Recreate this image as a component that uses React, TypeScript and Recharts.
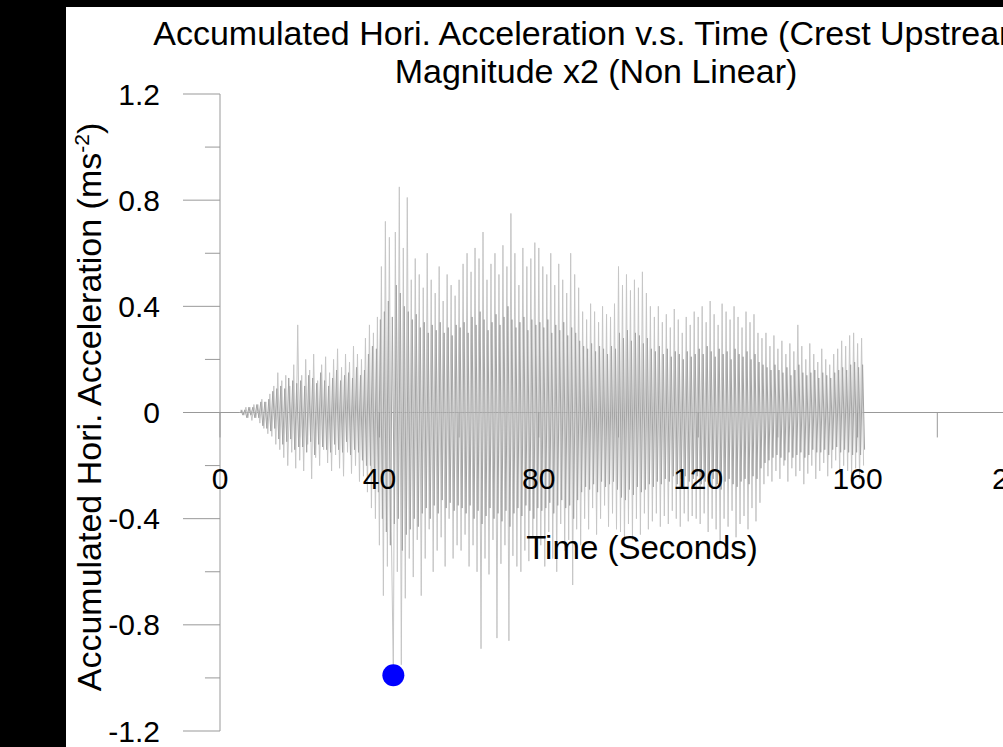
import { ComposedChart, Line, XAxis, YAxis, ReferenceLine, ReferenceDot } from 'recharts';

// regular sampling of the record (m/s^2)
const SAMPLE_STEP = 0.5;
const START_TIME = 5;
const CORE_START_TIME = 5.25;

// outer strokes (light grey)
// 5 - 19.5 s
const accelOnset = [
  0, 0.01, -0.01, 0.02, -0.02, 0.02, -0.03, 0.03, -0.02, 0.03,
  -0.04, 0.05, -0.06, 0.04, -0.08, 0.07, -0.09, 0.1, -0.12, 0.15,
  -0.14, 0.12, -0.17, 0.14, -0.2, 0.1, -0.15, 0.18, -0.21, 0.33,
];
// 20 - 39.5 s
const accel20 = [
  -0.18, 0.14, -0.22, 0.2, -0.12, 0.16, -0.25, 0.22, -0.17, 0.12,
  -0.2, 0.18, -0.14, 0.21, -0.19, 0.15, -0.22, 0.2, -0.16, 0.24,
  -0.21, 0.17, -0.24, 0.22, -0.15, 0.19, -0.23, 0.25, -0.2, 0.22,
  -0.26, 0.2, -0.24, 0.28, -0.3, 0.33, -0.36, 0.3, -0.4, 0.36,
];
// 40 - 59.5 s
const accel40 = [
  -0.5, 0.55, -0.69, 0.72, -0.58, 0.66, -0.45, -0.99, 0.68, -0.6,
  0.85, -0.95, 0.62, -0.7, 0.81, -0.55, 0.5, -0.62, 0.58, -0.48,
  0.52, -0.69, 0.47, -0.55, 0.6, -0.44, 0.5, -0.6, 0.45, -0.52,
  0.55, -0.47, 0.42, -0.58, 0.52, -0.4, 0.48, -0.55, 0.44, -0.5,
];
// 60 - 79.5 s
const accel60 = [
  0.5, -0.52, 0.56, -0.46, 0.6, -0.58, 0.53, -0.5, 0.62, -0.6,
  0.58, -0.89, 0.68, -0.55, 0.5, -0.61, 0.56, -0.48, 0.6, -0.85,
  0.52, -0.57, 0.63, -0.5, 0.55, -0.86, 0.75, -0.54, 0.6, -0.58,
  0.48, -0.6, 0.62, -0.52, 0.55, -0.56, 0.58, -0.47, 0.64, -0.55,
];
// 80 - 99.5 s
const accel80 = [
  0.62, -0.5, 0.55, -0.58, 0.52, -0.45, 0.6, -0.55, 0.48, -0.6,
  0.56, -0.42, 0.5, -0.52, 0.45, -0.48, 0.6, -0.65, 0.52, -0.44,
  0.47, -0.5, 0.38, -0.4, 0.35, -0.44, 0.41, -0.36, 0.38, -0.46,
  0.34, -0.4, 0.4, -0.35, 0.37, -0.43, 0.36, -0.38, 0.41, -0.44,
];
// 100 - 119.5 s
const accel100 = [
  0.55, -0.45, 0.48, -0.5, 0.52, -0.42, 0.46, -0.48, 0.5, -0.4,
  0.47, -0.46, 0.53, -0.38, 0.45, -0.44, 0.4, -0.41, 0.36, -0.38,
  0.4, -0.43, 0.34, -0.39, 0.37, -0.42, 0.32, -0.37, 0.39, -0.4,
  0.35, -0.43, 0.3, -0.38, 0.36, -0.41, 0.33, -0.39, 0.38, -0.4,
];
// 120 - 139.5 s
const accel120 = [
  0.36, -0.42, 0.4, -0.38, 0.34, -0.45, 0.42, -0.4, 0.37, -0.44,
  0.33, -0.49, 0.41, -0.4, 0.38, -0.43, 0.35, -0.37, 0.4, -0.47,
  0.36, -0.42, 0.32, -0.39, 0.38, -0.44, 0.34, -0.36, 0.37, -0.41,
  0.3, -0.34, 0.28, -0.27, 0.3, -0.24, 0.25, -0.26, 0.29, -0.22,
];
// 140 - 161.5 s
const accel140 = [
  0.24, -0.25, 0.27, -0.2, 0.22, -0.26, 0.26, -0.21, 0.23, -0.24,
  0.33, -0.22, 0.25, -0.27, 0.2, -0.23, 0.26, -0.2, 0.22, -0.25,
  0.19, -0.22, 0.24, -0.19, 0.2, -0.24, 0.18, -0.21, 0.22, -0.18,
  0.24, -0.23, 0.27, -0.2, 0.25, -0.22, 0.29, -0.24, 0.3, -0.21,
  0.26, -0.25, 0.28, -0.2,
];

// dense inner strokes (mid grey), offset by a quarter second
const coreOnset = [
  0.01, -0.01, 0.01, -0.02, 0.02, -0.01, 0.02, -0.02, 0.03, -0.02,
  0.04, -0.05, 0.04, -0.06, 0.05, -0.07, 0.08, -0.06, 0.09, -0.1,
  0.1, -0.12, 0.09, -0.11, 0.13, -0.1, 0.12, -0.14, 0.11, -0.13,
];
const core20 = [
  0.12, -0.13, 0.1, -0.15, 0.14, -0.11, 0.13, -0.16, 0.11, -0.12,
  0.15, -0.13, 0.12, -0.14, 0.1, -0.15, 0.13, -0.12, 0.16, -0.14,
  0.12, -0.15, 0.14, -0.11, 0.15, -0.16, 0.13, -0.14, 0.17, -0.15,
  0.14, -0.18, 0.16, -0.2, 0.22, -0.2, 0.25, -0.27, 0.24, -0.3,
];
const core40 = [
  0.35, -0.4, 0.38, -0.45, 0.42, -0.5, 0.36, -0.42, 0.48, -0.4,
  0.45, -0.52, 0.4, -0.46, 0.38, -0.44, 0.35, -0.4, 0.37, -0.43,
  0.32, -0.38, 0.34, -0.36, 0.3, -0.4, 0.33, -0.35, 0.31, -0.38,
  0.34, -0.33, 0.3, -0.36, 0.32, -0.34, 0.29, -0.37, 0.33, -0.35,
];
const core60 = [
  0.32, -0.36, 0.34, -0.38, 0.3, -0.35, 0.36, -0.4, 0.33, -0.37,
  0.38, -0.42, 0.35, -0.39, 0.31, -0.36, 0.34, -0.4, 0.37, -0.38,
  0.33, -0.41, 0.36, -0.37, 0.4, -0.43, 0.35, -0.38, 0.32, -0.36,
  0.34, -0.39, 0.36, -0.35, 0.31, -0.37, 0.35, -0.4, 0.33, -0.36,
];
const core80 = [
  0.34, -0.37, 0.32, -0.36, 0.35, -0.34, 0.3, -0.38, 0.33, -0.35,
  0.31, -0.33, 0.34, -0.36, 0.29, -0.35, 0.32, -0.4, 0.3, -0.33,
  0.27, -0.3, 0.25, -0.28, 0.24, -0.29, 0.26, -0.27, 0.23, -0.3,
  0.25, -0.26, 0.24, -0.28, 0.22, -0.27, 0.25, -0.26, 0.24, -0.29,
];
const core100 = [
  0.3, -0.32, 0.28, -0.33, 0.31, -0.29, 0.27, -0.31, 0.3, -0.28,
  0.29, -0.3, 0.26, -0.29, 0.28, -0.27, 0.24, -0.28, 0.23, -0.26,
  0.25, -0.27, 0.22, -0.25, 0.24, -0.26, 0.21, -0.24, 0.23, -0.27,
  0.22, -0.25, 0.2, -0.24, 0.23, -0.26, 0.21, -0.25, 0.22, -0.24,
];
const core120 = [
  0.24, -0.27, 0.22, -0.26, 0.25, -0.28, 0.23, -0.25, 0.21, -0.27,
  0.24, -0.29, 0.22, -0.26, 0.23, -0.25, 0.2, -0.27, 0.24, -0.28,
  0.22, -0.26, 0.21, -0.25, 0.23, -0.27, 0.2, -0.24, 0.22, -0.25,
  0.19, -0.21, 0.18, -0.19, 0.17, -0.18, 0.16, -0.17, 0.18, -0.16,
];
const core140 = [
  0.16, -0.17, 0.15, -0.18, 0.17, -0.15, 0.14, -0.17, 0.16, -0.16,
  0.18, -0.15, 0.15, -0.17, 0.14, -0.16, 0.15, -0.14, 0.16, -0.15,
  0.13, -0.15, 0.15, -0.14, 0.14, -0.16, 0.13, -0.14, 0.15, -0.13,
  0.16, -0.15, 0.17, -0.14, 0.16, -0.15, 0.18, -0.16, 0.19, -0.15,
  0.17, -0.16, 0.18, -0.14,
];

const PEAK = { t: 43.5, a: -0.99 };

const Y_TICKS = [-1.2, -0.8, -0.4, 0, 0.4, 0.8, 1.2];
const Y_MINOR = [-1.0, -0.6, -0.2, 0.2, 0.6, 1.0];
const X_TICKS = [0, 40, 80, 120, 160, 200];
const X_MINOR = [20, 60, 100, 140, 180];

const accel = [
  ...accelOnset, ...accel20, ...accel40, ...accel60,
  ...accel80, ...accel100, ...accel120, ...accel140,
];
const core = [
  ...coreOnset, ...core20, ...core40, ...core60,
  ...core80, ...core100, ...core120, ...core140,
];
const outerData = accel.map((a, i) => ({ t: START_TIME + i * SAMPLE_STEP, a }));
const coreData = core.map((a, i) => ({ t: CORE_START_TIME + i * SAMPLE_STEP, a }));

const FONT = '"Liberation Sans", Arial, sans-serif';
const AXIS = '#999999';

export default function App() {
  return (
    <div style={{ position: 'fixed', left: 0, top: 0, width: 1003, height: 747, background: '#000', overflow: 'hidden', fontFamily: FONT }}>
      <div style={{ position: 'absolute', left: 66, top: 7, right: 0, bottom: 0, background: '#fff' }} />
      <div style={{ position: 'absolute', left: 0, top: 0 }}>
        <ComposedChart width={1100} height={747} margin={{ top: 94, right: 83, bottom: 16, left: 70 }}>
          <XAxis type="number" dataKey="t" domain={[0, 200]} hide />
          <YAxis
            type="number"
            domain={[-1.2, 1.2]}
            ticks={Y_TICKS}
            interval={0}
            width={150}
            tickSize={37}
            tickMargin={23}
            axisLine={{ stroke: AXIS }}
            tickLine={{ stroke: AXIS }}
            tick={{ fill: '#000', fontSize: 30, fontFamily: FONT }}
          />
          <ReferenceLine y={0} stroke={AXIS} />
          {Y_MINOR.map((v) => (
            <ReferenceLine key={`ym${v}`} segment={[{ x: -3.77, y: v }, { x: 0, y: v }]} stroke={AXIS} ifOverflow="visible" />
          ))}
          {X_MINOR.map((v) => (
            <ReferenceLine key={`xm${v}`} segment={[{ x: v, y: 0 }, { x: v, y: -0.094 }]} stroke={AXIS} ifOverflow="visible" />
          ))}
          <Line
            data={outerData}
            type="linear"
            dataKey="a"
            stroke="#c6c6c6"
            strokeWidth={1}
            dot={false}
            isAnimationActive={false}
          />
          <Line
            data={coreData}
            type="linear"
            dataKey="a"
            stroke="#a4a4a4"
            strokeWidth={1}
            dot={false}
            isAnimationActive={false}
          />
          {X_TICKS.map((v) => (
            <ReferenceLine
              key={`xt${v}`}
              segment={[{ x: v, y: 0 }, { x: v, y: -0.094 }]}
              stroke={AXIS}
              ifOverflow="visible"
              label={{ value: String(v), position: 'bottom', offset: 30, fill: '#000', fontSize: 30, fontFamily: FONT }}
            />
          ))}
          <ReferenceDot x={PEAK.t} y={PEAK.a} r={11} fill="#0000ff" stroke="none" ifOverflow="visible" />
        </ComposedChart>
      </div>
      <div style={{ position: 'absolute', left: 596 - 700, top: 14, width: 1400, textAlign: 'center', fontSize: 34, lineHeight: '38px', whiteSpace: 'pre', color: '#000' }}>
        {'Accumulated Hori. Acceleration v.s. Time (Crest Upstream)\nMagnitude x2 (Non Linear)'}
      </div>
      <div style={{ position: 'absolute', left: 642, top: 547, transform: 'translate(-50%, -50%)', fontSize: 33, lineHeight: '33px', whiteSpace: 'nowrap', color: '#000' }}>
        Time (Seconds)
      </div>
      <div style={{ position: 'absolute', left: 89, top: 407, transform: 'translate(-50%, -50%) rotate(-90deg)', fontSize: 34, lineHeight: '34px', whiteSpace: 'nowrap', color: '#000' }}>
        Accumulated Hori. Acceleration (ms<sup style={{ fontSize: 21, lineHeight: 0 }}>-2</sup>)
      </div>
    </div>
  );
}
